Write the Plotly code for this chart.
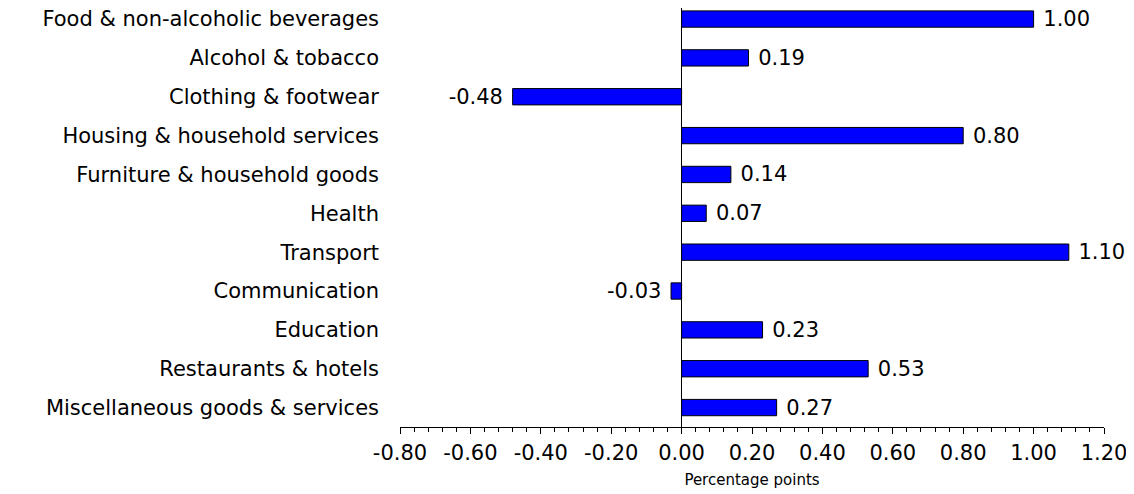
import plotly.graph_objects as go

categories = [
    "Food & non-alcoholic beverages",
    "Alcohol & tobacco",
    "Clothing & footwear",
    "Housing & household services",
    "Furniture & household goods",
    "Health",
    "Transport",
    "Communication",
    "Education",
    "Restaurants & hotels",
    "Miscellaneous goods & services",
]
values = [1.00, 0.19, -0.48, 0.80, 0.14, 0.07, 1.10, -0.03, 0.23, 0.53, 0.27]
x_ticks = [-0.8, -0.6, -0.4, -0.2, 0.0, 0.2, 0.4, 0.6, 0.8, 1.0, 1.2]
x_title = "Percentage points"

labels = [(" %.2f" % v) if v >= 0 else ("%.2f " % v) for v in values]

FONT = "DejaVu Sans, Verdana, Arial"
FS = 21

fig = go.Figure(go.Bar(
    x=values,
    y=categories,
    orientation="h",
    width=0.42,
    marker=dict(color="#0000FF", line=dict(color="black", width=1)),
    text=labels,
    textposition="outside",
    constraintext="none",
    textfont=dict(family=FONT, size=FS, color="black"),
    cliponaxis=False,
))

fig.update_layout(
    width=1126, height=486,
    margin=dict(l=392, r=30, t=0, b=67),
    plot_bgcolor="white", paper_bgcolor="white",
    font=dict(family=FONT, size=FS, color="black"),
    showlegend=False,
    xaxis=dict(
        range=[-0.8, 1.2],
        tickvals=x_ticks,
        ticktext=["%.2f" % t for t in x_ticks],
        showgrid=False,
        zeroline=True, zerolinecolor="black", zerolinewidth=1,
        showline=True, linecolor="black", linewidth=1,
        ticks="outside", ticklen=6, tickcolor="black",
        minor=dict(dtick=0.04, tick0=-0.8, ticks="outside", ticklen=4, tickcolor="black"),
        tickfont=dict(size=FS),
        ticklabelstandoff=1,
        title=dict(text=x_title, font=dict(size=15), standoff=10),
    ),
    yaxis=dict(
        categoryorder="array", categoryarray=categories,
        range=[10.5, -0.284],
        showgrid=False, zeroline=False, showline=False,
        ticks="", ticklabelstandoff=20,
        tickfont=dict(size=FS),
    ),
)

fig.write_html("out.html")
